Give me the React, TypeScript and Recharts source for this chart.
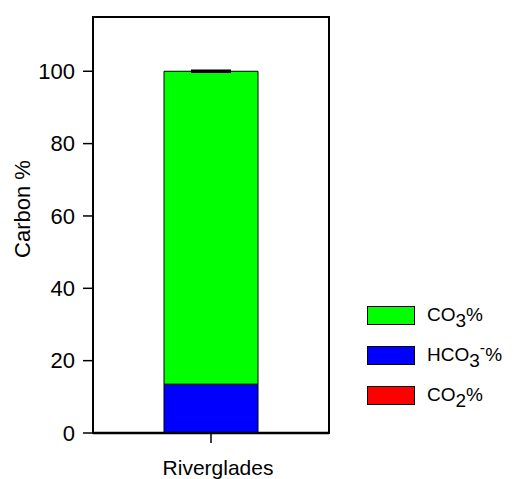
import {
  Bar,
  BarChart,
  ErrorBar,
  Legend,
  ReferenceArea,
  XAxis,
  YAxis,
} from 'recharts';

const sites = ['Riverglades'];
const co2Pct = [0.1];
const hco3Pct = [13.4];
const co3Pct = [86.5];
const co3Err = [0.2];
const yTicks = [0, 20, 40, 60, 80, 100];

const data = sites.map((site, i) => ({
  site,
  co2: co2Pct[i],
  hco3: hco3Pct[i],
  co3: co3Pct[i],
  co3Err: co3Err[i],
}));

const FONT = 'Liberation Sans, Arial, Helvetica, sans-serif';

// page has the default 8px body margin; the chart fills the window
if (typeof document !== 'undefined') document.body.style.margin = '0';

const legendItems = [
  { color: '#00ff00', base: 'CO', sub: '3', sup: '', tail: '%' },
  { color: '#0000ff', base: 'HCO', sub: '3', sup: '-', tail: '%' },
  { color: '#ff0000', base: 'CO', sub: '2', sup: '', tail: '%' },
];

function SpeciesLegend() {
  return (
    <svg width={146} height={100} style={{ display: 'block', overflow: 'visible' }}>
      {legendItems.map((item, i) => (
        <g key={item.base + item.sub} transform={`translate(0, ${i * 40})`}>
          <rect x={0.5} y={0.5} width={47} height={18} fill={item.color} stroke="#000" strokeWidth={1} />
          <text x={60} y={15} fontFamily={FONT} fontSize={19} fill="#000">
            {item.base}
            <tspan dy={6}>{item.sub}</tspan>
            {item.sup ? (
              <tspan dy={-14} fontSize={16}>
                {item.sup}
              </tspan>
            ) : null}
            <tspan dy={item.sup ? 8 : -6}>{item.tail}</tspan>
          </text>
        </g>
      ))}
    </svg>
  );
}

function YTitle({ viewBox }: { viewBox?: { x: number; y: number; width: number; height: number } }) {
  if (!viewBox) return null;
  const cx = 22;
  const cy = viewBox.y + viewBox.height / 2 - 16;
  return (
    <text
      x={cx}
      y={cy}
      transform={`rotate(-90, ${cx}, ${cy})`}
      textAnchor="middle"
      dominantBaseline="central"
      fontFamily={FONT}
      fontSize={22}
      fill="#000"
    >
      Carbon %
    </text>
  );
}

export default function App() {
  return (
    <BarChart
      width={513}
      height={479}
      data={data}
      margin={{ top: 17, right: 184, bottom: 0, left: 0 }}
      style={{ fontFamily: FONT }}
    >
      <XAxis
        dataKey="site"
        height={46}
        axisLine={{ stroke: '#000', strokeWidth: 2.5 }}
        tickLine={{ stroke: '#000', strokeWidth: 1.5 }}
        tickSize={10}
        tickMargin={17}
        tick={{ fill: '#000', fontSize: 21, fontFamily: FONT, dx: 7 }}
      />
      <YAxis
        width={93}
        domain={[0, 115]}
        ticks={yTicks}
        interval={0}
        axisLine={{ stroke: '#000', strokeWidth: 2 }}
        tickLine={{ stroke: '#000', strokeWidth: 1.5 }}
        tickSize={10}
        tickMargin={8}
        tick={{ fill: '#000', fontSize: 22, fontFamily: FONT }}
        label={<YTitle />}
      />
      {/* frame around the plot area */}
      <ReferenceArea y1={0} y2={115} fill="none" stroke="#000" strokeWidth={2} ifOverflow="visible" />
      <Bar dataKey="co2" stackId="c" fill="#ff0000" stroke="#000" strokeWidth={1} barSize={94} isAnimationActive={false} />
      <Bar dataKey="hco3" stackId="c" fill="#0000ff" stroke="#000" strokeWidth={1} barSize={94} isAnimationActive={false} />
      <Bar dataKey="co3" stackId="c" fill="#00ff00" stroke="#000" strokeWidth={1} barSize={94} isAnimationActive={false}>
        <ErrorBar dataKey="co3Err" width={20} stroke="#000" strokeWidth={2} direction="y" />
      </Bar>
      <Legend
        layout="vertical"
        align="center"
        verticalAlign="middle"
        content={<SpeciesLegend />}
        wrapperStyle={{ position: 'absolute', left: 367, top: 306, width: 146, height: 100 }}
      />
    </BarChart>
  );
}
